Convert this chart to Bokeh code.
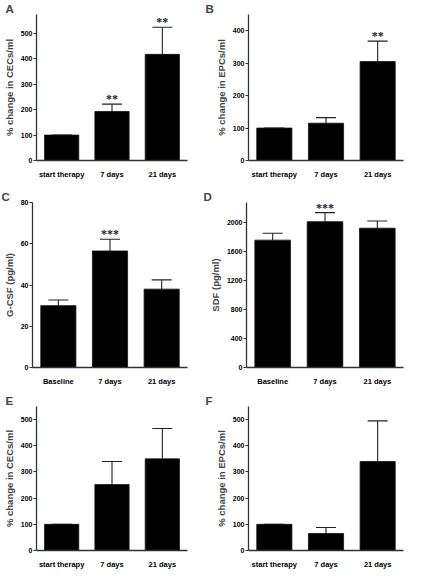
from bokeh.plotting import figure
from bokeh.layouts import column, row
from bokeh.models import ColumnDataSource, FactorRange, Range1d, Whisker, TeeHead, LabelSet, FixedTicker
from bokeh.embed import file_html
from bokeh.resources import INLINE

# ---- data ----
cats_pct = ["start therapy", "7 days", "21 days"]
cats_cyt = ["Baseline", "7 days", "21 days"]

a_vals = [100, 193, 418]
a_err = [100, 222, 525]
a_stars = ["", "**", "**"]

b_vals = [100, 115, 305]
b_err = [100, 132, 368]
b_stars = ["", "", "**"]

c_vals = [30, 56.5, 38]
c_err = [32.7, 62.2, 42.5]
c_stars = ["", "***", ""]

d_vals = [1760, 2015, 1925]
d_err = [1855, 2140, 2025]
d_stars = ["", "***", ""]

e_vals = [100, 252, 350]
e_err = [100, 340, 466]
e_stars = ["", "", ""]

f_vals = [100, 65, 340]
f_err = [100, 88, 495]
f_stars = ["", "", ""]

FONT = "Liberation Sans"


def panel(letter, cats, vals, errs, stars, ylabel, ymax, ticks, width, height,
          bl, br, bb, letter_off):
    p = figure(x_range=FactorRange(*cats, range_padding=0), y_range=Range1d(0, ymax),
               width=width, height=height, output_backend="svg", toolbar_location=None,
               min_border_left=bl, min_border_right=br, min_border_top=0, min_border_bottom=bb)
    src = ColumnDataSource(dict(x=cats, y=vals, up=errs, st=stars))
    p.vbar(x="x", top="y", width=0.68, source=src, fill_color="black", line_color="#111111", line_width=0.8)
    p.add_layout(Whisker(base="x", lower="y", upper="up", source=src, line_color="#222222", line_width=1.1,
                         upper_head=TeeHead(size=20, line_color="#222222", line_width=1.1), lower_head=None))
    p.add_layout(LabelSet(x="x", y="up", text="st", source=src, text_align="center", text_baseline="bottom",
                          y_offset=-2, text_font_size="12px", text_font=FONT, text_font_style="bold",
                          text_color="#222222"))
    p.title.text = letter
    p.title.align = "left"
    p.title.offset = letter_off
    p.title.standoff = 0
    p.title.text_font = FONT
    p.title.text_font_style = "bold"
    p.title.text_font_size = "11.5px"
    p.xgrid.visible = False
    p.ygrid.visible = False
    p.outline_line_color = None
    p.background_fill_color = "white"
    p.border_fill_color = "white"
    for ax in (p.xaxis[0], p.yaxis[0]):
        ax.axis_line_color = "#333333"
        ax.axis_line_width = 1.3
        ax.major_label_text_font = FONT
        ax.major_label_text_font_style = "bold"
        ax.major_label_text_color = "black"
        ax.minor_tick_line_color = None
    p.xaxis.major_label_text_font_size = "7.5px"
    p.yaxis.major_label_text_font_size = "7px"
    p.xaxis.major_tick_line_color = None
    p.xaxis.major_label_standoff = 3
    p.yaxis.ticker = FixedTicker(ticks=ticks)
    p.yaxis.major_tick_line_color = "#333333"
    p.yaxis.major_tick_out = 3
    p.yaxis.major_tick_in = 0
    p.yaxis.major_label_standoff = 1
    p.yaxis.axis_label = ylabel
    p.yaxis.axis_label_text_font = FONT
    p.yaxis.axis_label_text_font_style = "bold"
    p.yaxis.axis_label_text_font_size = "9.5px"
    p.yaxis.axis_label_standoff = 3
    return p


pA = panel("A", cats_pct, a_vals, a_err, a_stars, "% change in CECs/ml", 575, [0, 100, 200, 300, 400, 500],
           202, 188, 26, 15, 28, -31)
pB = panel("B", cats_pct, b_vals, b_err, b_stars, "% change in EPCs/ml", 450, [0, 100, 200, 300, 400],
           203, 188, 46, 2, 28, -43)
pC = panel("C", cats_cyt, c_vals, c_err, c_stars, "G-CSF (pg/ml)", 80, [0, 20, 40, 60, 80],
           202, 204, 26, 15, 25, -31)
pD = panel("D", cats_cyt, d_vals, d_err, d_stars, "SDF (pg/ml)", 2280, [0, 400, 800, 1200, 1600, 2000],
           203, 204, 44, 2, 25, -43)
pE = panel("E", cats_pct, e_vals, e_err, e_stars, "% change in CECs/ml", 550, [0, 100, 200, 300, 400, 500],
           202, 179, 26, 15, 13, -31)
pF = panel("F", cats_pct, f_vals, f_err, f_stars, "% change in EPCs/ml", 550, [0, 100, 200, 300, 400, 500],
           203, 179, 46, 2, 13, -43)

layout = column(row(pA, pB, spacing=0), row(pC, pD, spacing=0), row(pE, pF, spacing=0), spacing=0)
open("out.html", "w").write(file_html(layout, INLINE))
